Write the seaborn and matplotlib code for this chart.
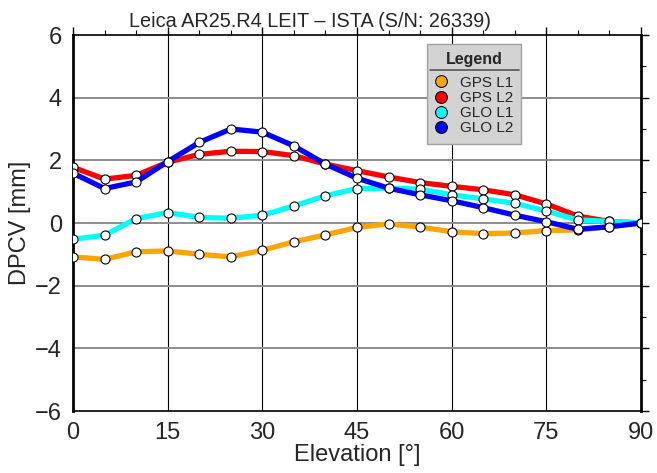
import matplotlib
matplotlib.use("Agg")
import matplotlib.pyplot as plt
import seaborn as sns
import numpy as np
import pandas as pd
from matplotlib.lines import Line2D

elevation = [0, 5, 10, 15, 20, 25, 30, 35, 40, 45, 50, 55, 60, 65, 70, 75, 80, 85, 90]
gps_l1 = [-1.08, -1.16, -0.92, -0.89, -1.00, -1.08, -0.87, -0.60, -0.38, -0.14,
          -0.03, -0.13, -0.28, -0.34, -0.32, -0.24, -0.22, -0.12, 0.0]
gps_l2 = [1.78, 1.40, 1.52, 1.94, 2.19, 2.29, 2.28, 2.15, 1.88, 1.67,
          1.47, 1.29, 1.17, 1.06, 0.90, 0.61, 0.22, 0.05, 0.0]
glo_l1 = [-0.52, -0.39, 0.14, 0.33, 0.18, 0.15, 0.25, 0.54, 0.87, 1.10,
          1.11, 1.08, 0.90, 0.77, 0.63, 0.38, 0.10, 0.05, 0.0]
glo_l2 = [1.59, 1.10, 1.31, 1.96, 2.57, 3.00, 2.90, 2.46, 1.88, 1.43,
          1.11, 0.90, 0.71, 0.49, 0.25, 0.04, -0.20, -0.12, 0.0]

series = ["GPS L1", "GPS L2", "GLO L1", "GLO L2"]
colors = ["orange", "red", "cyan", "blue"]

df = pd.DataFrame({"elev": elevation, "GPS L1": gps_l1, "GPS L2": gps_l2,
                   "GLO L1": glo_l1, "GLO L2": glo_l2})
long_df = df.melt(id_vars="elev", var_name="signal", value_name="dpcv")

sns.set_theme(style="white")
plt.rcParams["font.family"] = ["Liberation Sans", "DejaVu Sans"]

fig = plt.figure(figsize=(6.57, 4.73), dpi=100)
ax = fig.add_axes([73 / 657, 1 - 411 / 473, 568 / 657, 376 / 473])

# grid lines first
for xv in [15, 30, 45, 60, 75]:
    ax.axvline(xv, color="black", lw=0.8, zorder=1)
for yv in [-4, -2, 0, 2, 4]:
    ax.axhline(yv, color="#8c8c8c", lw=1.4, zorder=1)

for i, (name, col) in enumerate(zip(series, colors)):
    sub = long_df[long_df["signal"] == name]
    sns.lineplot(data=sub, x="elev", y="dpcv", color=col, lw=3.8, ax=ax,
                 marker="o", markersize=6.5, markerfacecolor="white",
                 markeredgecolor="black", markeredgewidth=0.8,
                 zorder=3 + i, legend=False)

ax.set_xlim(0, 90)
ax.set_ylim(-6, 6)
ax.set_xticks(np.arange(0, 91, 15))
ax.set_yticks(np.arange(-6, 7, 2))
ax.set_xticks(np.arange(0, 91, 5), minor=True)
ax.set_yticks(np.arange(-6, 7, 1), minor=True)
ax.tick_params(axis="both", which="major", labelsize=17, length=6, width=1,
               color="black", direction="out", pad=2)
ax.tick_params(axis="both", which="minor", length=3.5, width=0.8,
               color="black", direction="out")
ax.tick_params(top=True, right=True, which="both")
for side in ["top", "bottom"]:
    ax.spines[side].set_linewidth(1.2)
    ax.spines[side].set_color("black")
for side in ["left", "right"]:
    ax.spines[side].set_linewidth(2.0)
    ax.spines[side].set_color("black")

ax.set_xlabel("Elevation [°]", fontsize=17, labelpad=0)
ax.set_ylabel("DPCV [mm]", fontsize=17, labelpad=3)
ax.set_title("Leica AR25.R4 LEIT \u2013 ISTA (S/N: 26339)", fontsize=14.3, pad=6, x=0.417)

handles = [Line2D([], [], ls="none", marker="o", markersize=8.5,
                  markerfacecolor=c, markeredgecolor="black", markeredgewidth=0.8)
           for c in colors]
leg = ax.legend(handles, series, loc="upper left", bbox_to_anchor=(0.623, 0.976),
                borderaxespad=0, title="Legend", fontsize=11, frameon=True,
                fancybox=False, facecolor="#d3d3d3", edgecolor="#a0a0a0",
                framealpha=1, handletextpad=0.8, labelspacing=0.08,
                borderpad=0.55, handlelength=0.8)
leg.get_title().set_fontweight("bold")
leg.get_title().set_fontsize(11.5)
leg.set_zorder(10)
# a bit more room under the title for the underline
leg._legend_box.sep = 6

fig.canvas.draw()
tb = leg.get_title().get_window_extent()
inv = fig.transFigure.inverted()
(x0, y0), (x1, y1) = inv.transform([[tb.x0 - 16, tb.y0 - 3], [tb.x1 + 16, tb.y0 - 3]])
fig.add_artist(Line2D([x0, x1], [y0, y1], color="#555555", lw=1.2, zorder=11))

fig.savefig("out.png", dpi=100)
